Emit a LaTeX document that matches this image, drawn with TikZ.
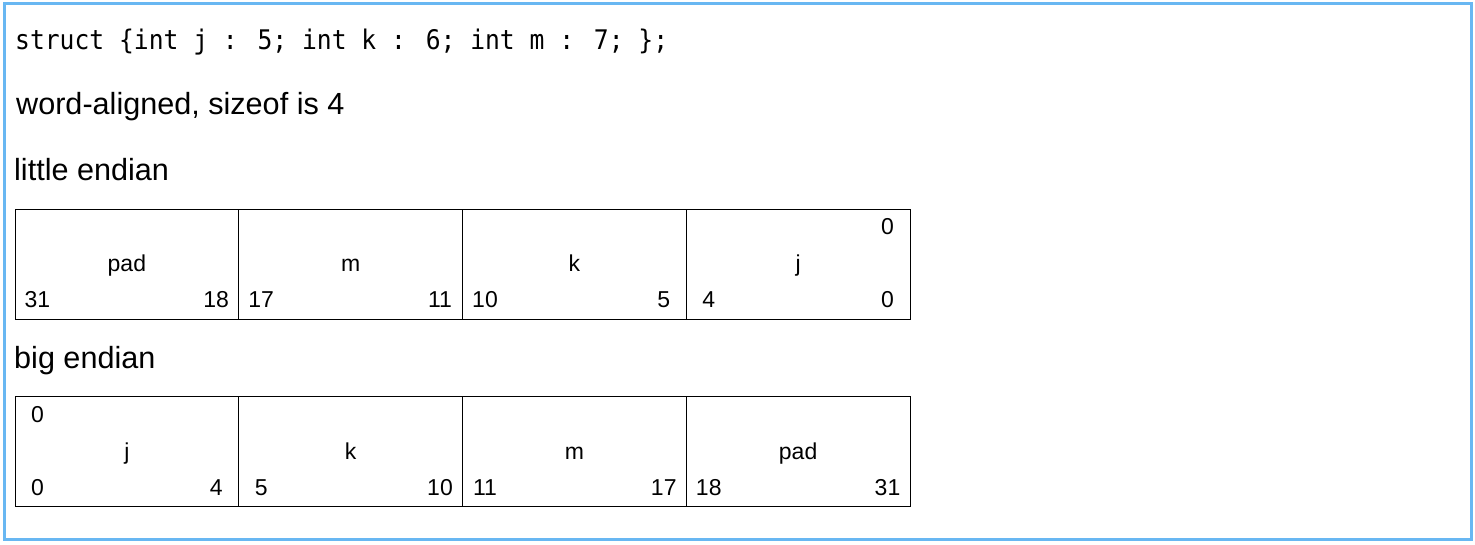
\documentclass[tikz,border=0pt]{standalone}
\usepackage{fontspec}
\newfontfamily\lsans{Liberation Sans}
\newfontfamily\dmono{DejaVu Sans Mono}
\definecolor{frameblue}{RGB}{104,183,242}
\begin{document}
\begin{tikzpicture}[x=1pt,y=-1pt,
  txt/.style={inner sep=0,anchor=base west,font=\lsans\fontsize{30.6}{36}\selectfont},
  code/.style={inner sep=0,anchor=base west,font=\dmono\fontsize{27}{32}\selectfont},
  cell/.style={draw=black,line width=0.9pt,minimum width=223.75pt,minimum height=110pt,inner sep=0,outer sep=0,anchor=north west},
  lbl/.style={inner sep=0,anchor=base,font=\lsans\fontsize{23}{27}\selectfont},
  lo/.style={xshift=22.5pt,yshift=11pt},
  hi/.style={xshift=-22.5pt,yshift=11pt},
  mid/.style={yshift=-8pt},
  topl/.style={xshift=22.5pt,yshift=-26pt},
  topr/.style={xshift=-22.5pt,yshift=-26pt}]
\useasboundingbox (0,0) rectangle (1475,545);
\draw[frameblue,line width=3pt] (4,4) rectangle (1471,539);

\node[code] (decl) at (15,50) {\scalebox{0.913}[1]{struct \{int j : 5; int k : 6; int m : 7; \};}};
\node[txt] (size) at (16,115) {word-aligned, sizeof is 4};
\node[txt] (little) at (14,181) {little endian};
\node[txt] (big) at (14,368) {big endian};

% little endian
\node[cell] (l1) at (15,209) {};
\node[cell] (l2) at (238.75,209) {};
\node[cell] (l3) at (462.5,209) {};
\node[cell] (l4) at (686.25,209) {};
\node[lbl,mid] (l1n) at (l1.center) {pad};
\node[lbl,mid] (l2n) at (l2.center) {m};
\node[lbl,mid] (l3n) at (l3.center) {k};
\node[lbl,mid] (l4n) at (l4.center) {j};
\node[lbl,lo] (l1a) at (l1.south west) {31};
\node[lbl,hi] (l1b) at (l1.south east) {18};
\node[lbl,lo] (l2a) at (l2.south west) {17};
\node[lbl,hi] (l2b) at (l2.south east) {11};
\node[lbl,lo] (l3a) at (l3.south west) {10};
\node[lbl,hi] (l3b) at (l3.south east) {5};
\node[lbl,lo] (l4a) at (l4.south west) {4};
\node[lbl,hi] (l4b) at (l4.south east) {0};
\node[lbl,topr] (l4t) at (l4.north east) {0};

% big endian
\node[cell] (b1) at (15,396) {};
\node[cell] (b2) at (238.75,396) {};
\node[cell] (b3) at (462.5,396) {};
\node[cell] (b4) at (686.25,396) {};
\node[lbl,mid] (b1n) at (b1.center) {j};
\node[lbl,mid] (b2n) at (b2.center) {k};
\node[lbl,mid] (b3n) at (b3.center) {m};
\node[lbl,mid] (b4n) at (b4.center) {pad};
\node[lbl,lo] (b1a) at (b1.south west) {0};
\node[lbl,hi] (b1b) at (b1.south east) {4};
\node[lbl,lo] (b2a) at (b2.south west) {5};
\node[lbl,hi] (b2b) at (b2.south east) {10};
\node[lbl,lo] (b3a) at (b3.south west) {11};
\node[lbl,hi] (b3b) at (b3.south east) {17};
\node[lbl,lo] (b4a) at (b4.south west) {18};
\node[lbl,hi] (b4b) at (b4.south east) {31};
\node[lbl,topl] (b1t) at (b1.north west) {0};
\end{tikzpicture}
\end{document}
